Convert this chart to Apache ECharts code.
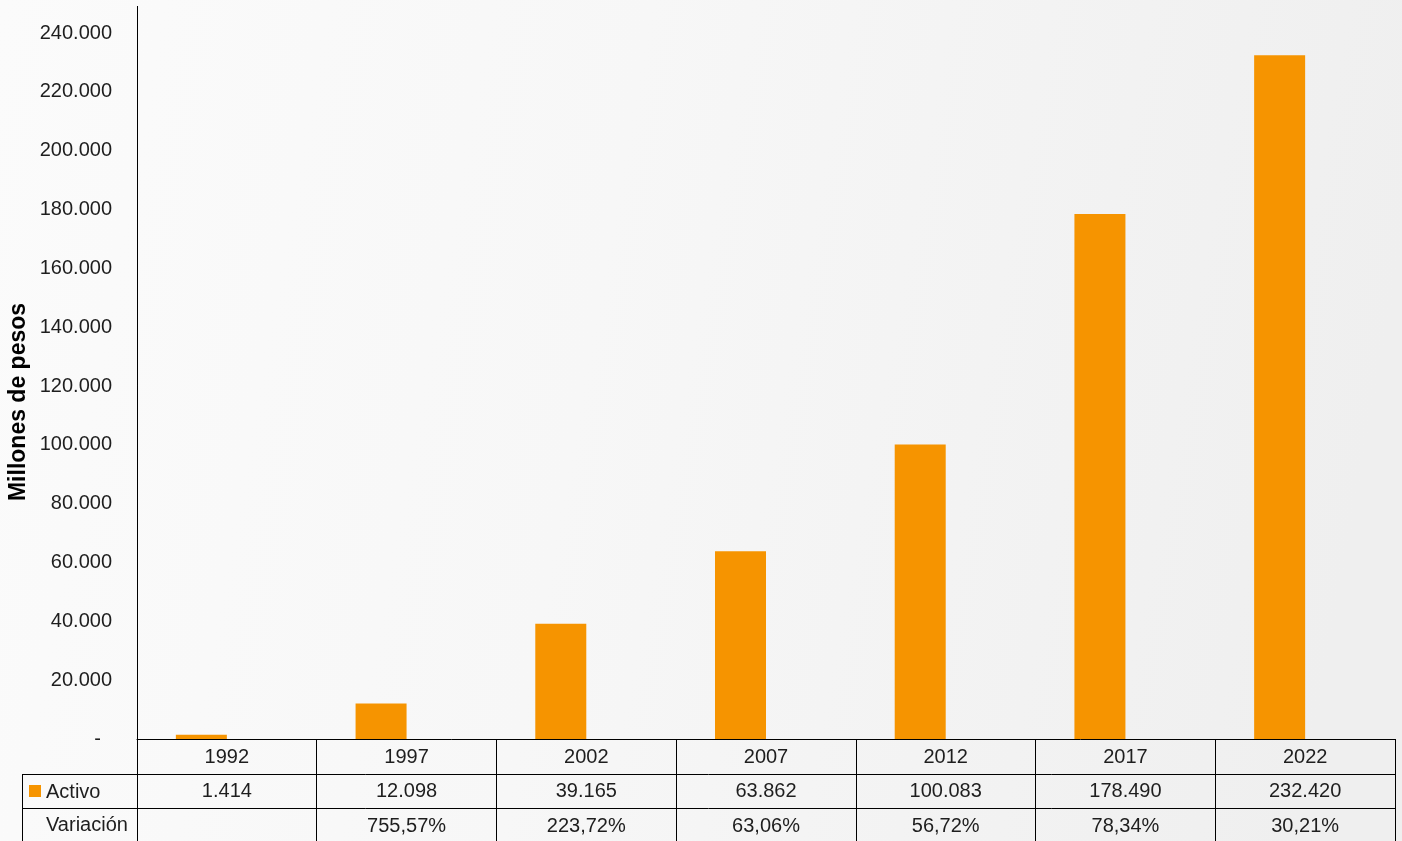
<!DOCTYPE html>
<html>
<head>
<meta charset="utf-8">
<script src="https://cdn.jsdelivr.net/npm/echarts@6/dist/echarts.min.js"></script>
<style>
html,body{margin:0;padding:0;background:#fff;}
#main{width:1402px;height:841px;}
</style>
</head>
<body>
<div id="main"></div>
<script>
const years = ['1992','1997','2002','2007','2012','2017','2022'];
const activo = [1414, 12098, 39165, 63862, 100083, 178490, 232420];
const variacion = [null, 755.57, 223.72, 63.06, 56.72, 78.34, 30.21];
const rowLabels = ['Activo', 'Variación'];
const yTitle = 'Millones de pesos';

const FONT = '"Liberation Sans", Arial, Helvetica, sans-serif';
const ORANGE = '#F69400';
const fmtNum = n => String(n).replace(/\B(?=(\d{3})+(?!\d))/g, '.');
const fmtPct = v => v == null ? ' ' : v.toFixed(2).replace('.', ',') + '%';

const chart = echarts.init(document.getElementById('main'), null, {renderer: 'canvas'});

const L = 137, R = 1395, TOP = 33, AX = 739, ROW1 = 774, ROW2 = 808, BOT = 841;

chart.setOption({
  backgroundColor: {
    type: 'linear', x: 0, y: 0, x2: 1, y2: 0.3,
    colorStops: [
      {offset: 0, color: '#fbfbfb'},
      {offset: 0.45, color: '#f7f7f7'},
      {offset: 1, color: '#efefef'}
    ]
  },
  animation: false,
  grid: {left: L, right: 1402 - R, top: TOP, bottom: 841 - AX, containLabel: false, outerBoundsMode: 'none'},
  xAxis: {
    type: 'category',
    data: years,
    boundaryGap: true,
    axisLine: {show: true, lineStyle: {color: '#000', width: 1}},
    axisTick: {show: true, length: BOT - AX + 4, lineStyle: {color: '#000', width: 1}},
    axisLabel: {
      interval: 0,
      margin: 1,
      color: '#1e1e1e',
      fontFamily: FONT,
      fontSize: 20,
      lineHeight: 34.5,
      verticalAlign: 'top',
      formatter: (val, idx) => val + '\n' + fmtNum(activo[idx]) + '\n' + fmtPct(variacion[idx])
    }
  },
  yAxis: {
    type: 'value',
    min: 0, max: 240000, interval: 20000,
    axisLine: {show: true, lineStyle: {color: '#000', width: 1}},
    axisTick: {show: false},
    splitLine: {show: false},
    axisLabel: {
      margin: 25,
      color: '#1e1e1e',
      fontFamily: FONT,
      fontSize: 20,
      formatter: v => v === 0 ? '-  ' : fmtNum(v)
    }
  },
  series: [
    {
      name: rowLabels[0],
      type: 'bar',
      data: activo,
      barWidth: 51,
      barGap: '0%',
      itemStyle: {color: ORANGE}
    },
    {
      name: rowLabels[1],
      type: 'bar',
      data: variacion.map(() => null),
      barWidth: 51,
      barGap: '0%',
      itemStyle: {color: 'transparent'}
    }
  ],
  graphic: [
    {type: 'line', shape: {x1: L + 0.5, y1: 6, x2: L + 0.5, y2: TOP + 2}, style: {stroke: '#000', lineWidth: 1}},
    {type: 'line', shape: {x1: 22, y1: ROW1 + 0.5, x2: R, y2: ROW1 + 0.5}, style: {stroke: '#000', lineWidth: 1}},
    {type: 'line', shape: {x1: 22, y1: ROW2 + 0.5, x2: R, y2: ROW2 + 0.5}, style: {stroke: '#000', lineWidth: 1}},
    {type: 'line', shape: {x1: 22.5, y1: ROW1, x2: 22.5, y2: BOT}, style: {stroke: '#000', lineWidth: 1}},
    {type: 'rect', shape: {x: 29, y: 785, width: 12, height: 12}, style: {fill: ORANGE}},
    {type: 'text', x: 46, y: (ROW1 + ROW2) / 2 + 1, style: {text: rowLabels[0], font: '20px ' + FONT, fill: '#1e1e1e', verticalAlign: 'middle', align: 'left'}},
    {type: 'text', x: 46, y: (ROW2 + BOT) / 2 + 1, style: {text: rowLabels[1], font: '20px ' + FONT, fill: '#1e1e1e', verticalAlign: 'middle', align: 'left'}},
    {type: 'text', x: 19, y: 402, rotation: Math.PI / 2, style: {text: yTitle, font: 'bold 23px ' + FONT, fill: '#000', verticalAlign: 'middle', align: 'center'}}
  ]
});
</script>
</body>
</html>
